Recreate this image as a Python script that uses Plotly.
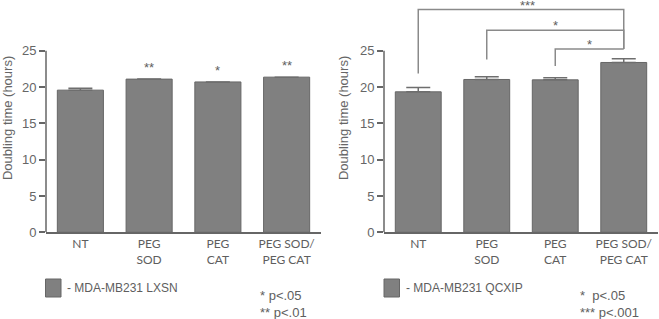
import plotly.graph_objects as go

categories = ["NT", "PEG<br>SOD", "PEG<br>CAT", "PEG SOD/<br>PEG CAT"]

# Left panel: MDA-MB231 LXSN
lxsn_values = [19.57, 21.09, 20.70, 21.36]
lxsn_errors = [0.25, 0.0, 0.0, 0.0]
lxsn_stars = ["", "**", "*", "**"]

# Right panel: MDA-MB231 QCXIP
qcxip_values = [19.34, 21.04, 20.99, 23.38]
qcxip_errors = [0.60, 0.36, 0.28, 0.50]

# Significance brackets (right panel)
comp_from = [0, 1, 2]
comp_to = [3, 3, 3]
comp_level = [30.67, 27.80, 25.25]
comp_start = [21.87, 23.80, 22.90]
comp_labels = ["***", "*", "*"]
comp_label_x = [1.6, 2.0, 2.5]

legend_names = ["- MDA-MB231 LXSN", "- MDA-MB231 QCXIP"]
pvalue_notes = ["* p<.05<br>** p<.01", "*  p<.05<br>*** p<.001"]

y_ticks = [0, 5, 10, 15, 20, 25]

BAR = "#808080"
EDGE = "#666666"
TXT = "#5e5e5e"
W, H = 659, 319

fig = go.Figure()

for i, (vals, errs) in enumerate([(lxsn_values, lxsn_errors), (qcxip_values, qcxip_errors)]):
    xa = "x" if i == 0 else "x2"
    ya = "y" if i == 0 else "y2"
    fig.add_trace(go.Bar(
        x=list(range(len(categories))), y=vals, xaxis=xa, yaxis=ya,
        marker=dict(color=BAR, line=dict(color=EDGE, width=1)),
        error_y=dict(type="data", array=errs, arrayminus=[0] * len(errs),
                     symmetric=False, color="#6e6e6e", thickness=1.5, width=12),
        showlegend=False, hoverinfo="skip",
    ))

ydom = [(319 - 232.3) / 319, (319 - 3.5) / 319]
xd1 = [46 / W, 321 / W]
xd2 = [384 / W, 658 / W]

axis_x = dict(range=[-0.5, 3.5], tickvals=list(range(4)), ticktext=categories,
              showline=True, linecolor=EDGE, linewidth=1.5, ticks="",
              showgrid=False, zeroline=False, automargin=False,
              tickfont=dict(family="Lato", size=12, color=TXT))
axis_y = dict(range=[0, 31.5], tickvals=y_ticks, ticks="outside", ticklen=6,
              tickcolor=EDGE, tickwidth=1.5, showline=False, showgrid=False,
              zeroline=False, domain=ydom, automargin=False,
              tickfont=dict(family="Liberation Sans", size=13, color="#666666"),
              title=dict(text="Doubling time (hours)", standoff=8,
                         font=dict(family="Liberation Sans", size=13, color="#666666")))

fig.update_layout(
    width=W, height=H, margin=dict(l=0, r=0, t=0, b=0, autoexpand=False),
    paper_bgcolor="white", plot_bgcolor="white", bargap=0.33,
    xaxis=dict(axis_x, domain=xd1, anchor="y"),
    xaxis2=dict(axis_x, domain=xd2, anchor="y2"),
    yaxis=dict(axis_y, anchor="x"),
    yaxis2=dict(axis_y, anchor="x2"),
)

# y axis lines limited to 0..25
for xr, yr in [("x domain", "y"), ("x2 domain", "y2")]:
    fig.add_shape(type="line", xref=xr, yref=yr, x0=0, x1=0, y0=0, y1=max(y_ticks),
                  line=dict(color=EDGE, width=1.5))

# left stars
for k, s in enumerate(lxsn_stars):
    if s:
        fig.add_annotation(x=k, y=lxsn_values[k] + lxsn_errors[k], xref="x", yref="y",
                           text=s, showarrow=False, yanchor="bottom", yshift=2,
                           font=dict(family="Liberation Sans", size=13, color=TXT))

# right brackets
low = min(comp_level)
for a, b, lev, st, lab, lx in zip(comp_from, comp_to, comp_level, comp_start, comp_labels, comp_label_x):
    fig.add_shape(type="path", xref="x2", yref="y2",
                  path=f"M {a},{st} L {a},{lev} L {b},{lev} L {b},{low}",
                  line=dict(color="#8a8a8a", width=1.5))
    fig.add_annotation(x=lx, y=lev, xref="x2", yref="y2", text=lab, showarrow=False,
                       yanchor="bottom", yshift=-5,
                       font=dict(family="Liberation Sans", size=13, color=TXT))

# legend swatches and notes
for xs, name, note, nx in [(45.5, legend_names[0], pvalue_notes[0], 258),
                           (384, legend_names[1], pvalue_notes[1], 578)]:
    fig.add_shape(type="rect", xref="paper", yref="paper",
                  x0=xs / W, x1=(xs + 15.5) / W, y0=(H - 297) / H, y1=(H - 279) / H,
                  fillcolor=BAR, line=dict(color=EDGE, width=1))
    fig.add_annotation(x=(xs + 19.5) / W, y=(H - 288) / H, xref="paper", yref="paper",
                       text=name, showarrow=False, xanchor="left", yanchor="middle",
                       font=dict(family="Liberation Sans", size=12, color=TXT))
    fig.add_annotation(x=nx / W, y=(H - 304) / H, xref="paper", yref="paper",
                       text=note, showarrow=False, xanchor="left", yanchor="middle",
                       align="left",
                       font=dict(family="Liberation Sans", size=13, color=TXT))

fig.write_html("out.html", config={"displayModeBar": False},
               post_script="document.body.style.margin='0';document.body.style.padding='0';")
